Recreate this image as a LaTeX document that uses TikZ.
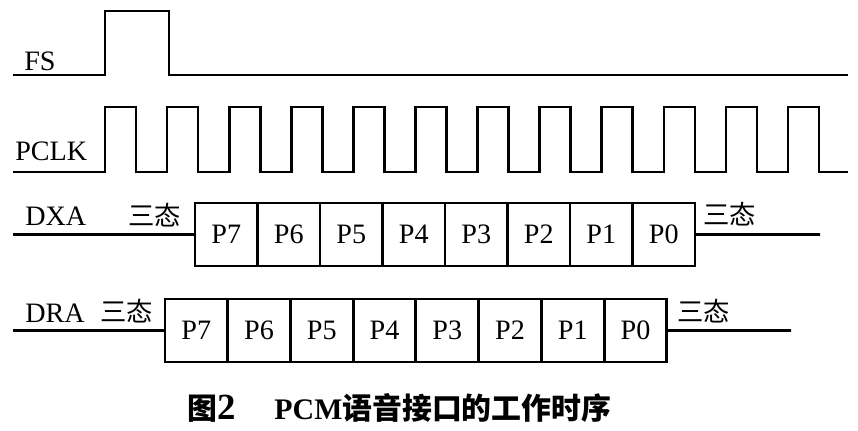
\documentclass[tikz,border=0pt]{standalone}
\usepackage{fontspec}
\setmainfont{Liberation Serif}
\newfontfamily\cjk{Noto Sans CJK SC}
\tikzset{
  wave/.style={line width=1.5pt, line join=miter},
  bitcell/.style={draw, line width=1.5pt, minimum width=1.25cm, minimum height=1.26cm,
    inner sep=0pt, outer sep=0pt, font=\fontsize{16}{18}\selectfont},
  siglabel/.style={anchor=base west, inner sep=0pt, font=\fontsize{16}{18}\selectfont},
  tristate/.style={anchor=base west, inner sep=0pt, font=\cjk\fontsize{15}{17}\selectfont}
}
\begin{document}
\begin{tikzpicture}[x=0.02cm, y=-0.02cm]
\useasboundingbox (0,0) rectangle (858,430);

% FS
\draw[wave] (13,75)--(105,75)--(105,11)--(169,11)--(169,75)--(848,75);
\node[siglabel] (fs) at (24,70) {FS};

% PCLK
\draw[wave] (13,172) \foreach \i in {0,...,11} {
    -- ({105+62.1*\i},172) -- ({105+62.1*\i},107) -- ({136+62.1*\i},107) -- ({136+62.1*\i},172)}
  -- (848,172);
\node[siglabel] (pclk) at (15,160) {PCLK};

% DXA
\foreach \t [count=\i from 0] in {P7,P6,P5,P4,P3,P2,P1,P0}
  \node[bitcell, anchor=north west] (dxa\i) at ({195+62.5*\i},203) {\t};
\coordinate (dxaL) at (13,234.5);
\coordinate (dxaR) at (820,234.5);
\draw[wave] (dxaL) -- (dxa0.west);
\draw[wave] (dxa7.east) -- (dxaR);
\node[siglabel] (dxa) at (25,225) {DXA};
\node[tristate] (dxaz1) at (128,225) {三态};
\node[tristate] (dxaz2) at (703,224) {三态};

% DRA
\foreach \t [count=\i from 0] in {P7,P6,P5,P4,P3,P2,P1,P0}
  \node[bitcell, anchor=north west] (dra\i) at ({165+62.75*\i},299) {\t};
\coordinate (draL) at (13,330.5);
\coordinate (draR) at (791,330.5);
\draw[wave] (draL) -- (dra0.west);
\draw[wave] (dra7.east) -- (draR);
\node[siglabel] (dra) at (25,322) {DRA};
\node[tristate] (draz1) at (100,321) {三态};
\node[tristate] (draz2) at (677,321) {三态};

% caption
\node[anchor=west, inner sep=0pt, font=\fontsize{17}{20}\selectfont\bfseries] (cap) at (187,408)
  {{\cjk 图}{\fontsize{21}{22}\selectfont 2}\hspace{1.3em}PCM{\cjk 语音接口的工作时序}};
\end{tikzpicture}
\end{document}
